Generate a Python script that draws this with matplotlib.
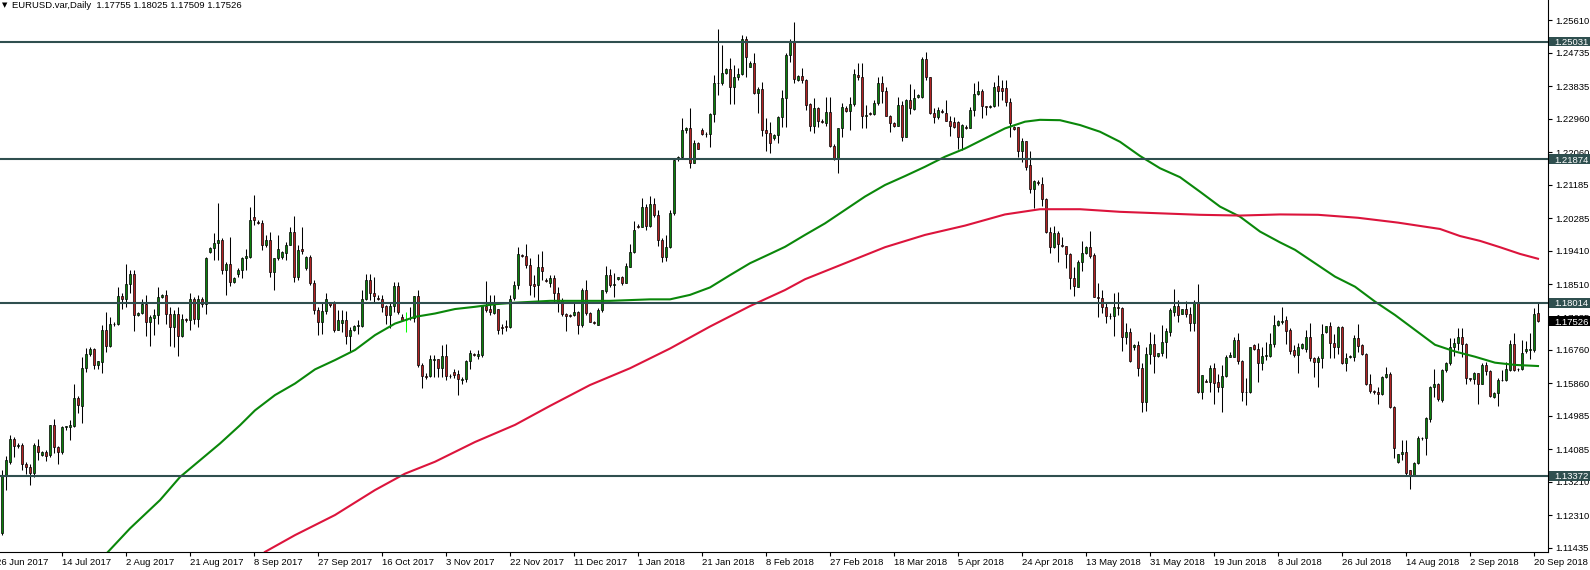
import matplotlib
matplotlib.use("Agg")
import matplotlib.pyplot as plt
import matplotlib.transforms as mtransforms
from matplotlib.patches import Rectangle
import numpy as np

plt.rcParams['font.family'] = ['Liberation Sans', 'DejaVu Sans']

# ---------------- data (EURUSD daily, bar index 0 = 26 Jun 2017) ----------------
opens = [
1.1195,1.1183,1.1340,1.1375,1.1437,1.1418,1.1421,1.1370,1.1360,1.1345,
1.1418,1.1393,1.1400,1.1392,1.1473,1.1415,1.1400,1.1467,1.1469,1.1470,
1.1547,1.1525,1.1628,1.1664,1.1679,1.1636,1.1643,1.1730,1.1686,1.1746,
1.1744,1.1820,1.1811,1.1852,1.1880,1.1769,1.1775,1.1798,1.1751,1.1761,
1.1768,1.1818,1.1824,1.1773,1.1737,1.1773,1.1713,1.1757,1.1755,1.1812,
1.1759,1.1813,1.1798,1.1939,1.1948,1.1963,1.1970,1.1889,1.1907,1.1858,
1.1880,1.1891,1.1921,1.1925,1.2031,1.2019,1.2016,1.1956,1.1970,1.1885,
1.1921,1.1925,1.1936,1.1958,1.1992,1.1871,1.1946,1.1896,1.1925,1.1854,
1.1782,1.1751,1.1779,1.1800,1.1804,1.1728,1.1748,1.1755,1.1713,1.1728,
1.1740,1.1740,1.1811,1.1863,1.1829,1.1815,1.1813,1.1793,1.1769,1.1794,
1.1846,1.1764,1.1755,1.1760,1.1760,1.1820,1.1636,1.1605,1.1605,1.1648,
1.1650,1.1628,1.1658,1.1606,1.1616,1.1610,1.1594,1.1596,1.1645,1.1664,
1.1658,1.1661,1.1793,1.1784,1.1775,1.1784,1.1737,1.1739,1.1737,1.1814,
1.1850,1.1929,1.1927,1.1902,1.1852,1.1849,1.1897,1.1863,1.1856,1.1868,
1.1829,1.1809,1.1772,1.1769,1.1768,1.1776,1.1741,1.1836,1.1774,1.1751,
1.1742,1.1782,1.1834,1.1876,1.1849,1.1865,1.1870,1.1856,1.1899,1.1938,
1.2008,1.2006,1.2060,1.2008,1.2067,1.2037,1.1970,1.1926,1.1952,1.2042,
1.2187,1.2194,1.2266,1.2270,1.2178,1.2232,1.2267,1.2254,1.2255,1.2309,
1.2391,1.2391,1.2418,1.2429,1.2380,1.2407,1.2416,1.2509,1.2436,1.2446,
1.2364,1.2377,1.2267,1.2258,1.2243,1.2252,1.2300,1.2351,1.2467,1.2503,
1.2400,1.2411,1.2400,1.2336,1.2277,1.2324,1.2290,1.2284,1.2313,1.2224,
1.2190,1.2270,1.2326,1.2317,1.2336,1.2413,1.2409,1.2304,1.2310,1.2308,
1.2337,1.2391,1.2371,1.2304,1.2285,1.2277,1.2334,1.2246,1.2346,1.2321,
1.2354,1.2353,1.2456,1.2407,1.2311,1.2300,1.2318,1.2312,1.2291,1.2288,
1.2287,1.2248,1.2275,1.2271,1.2319,1.2362,1.2371,1.2329,1.2327,1.2329,
1.2384,1.2378,1.2378,1.2342,1.2275,1.2273,1.2208,1.2236,1.2171,1.2106,
1.2126,1.2122,1.2080,1.1991,1.1951,1.1988,1.1957,1.1954,1.1933,1.1867,
1.1845,1.1912,1.1935,1.1951,1.1930,1.1818,1.1814,1.1790,1.1766,1.1765,
1.1790,1.1787,1.1709,1.1723,1.1682,1.1688,1.1626,1.1536,1.1663,1.1690,
1.1659,1.1666,1.1697,1.1724,1.1778,1.1793,1.1772,1.1784,1.1772,1.1747,
1.1802,1.1561,1.1592,1.1590,1.1628,1.1590,1.1577,1.1605,1.1657,1.1657,
1.1702,1.1646,1.1561,1.1561,1.1688,1.1677,1.1641,1.1659,1.1659,1.1691,
1.1742,1.1749,1.1756,1.1729,1.1675,1.1662,1.1680,1.1677,1.1709,1.1653,
1.1644,1.1653,1.1724,1.1739,1.1693,1.1684,1.1736,1.1641,1.1655,1.1657,
1.1706,1.1688,1.1664,1.1585,1.1565,1.1561,1.1557,1.1603,1.1610,1.1523,
1.1373,1.1395,1.1400,1.1353,1.1339,1.1371,1.1438,1.1438,1.1490,1.1576,
1.1585,1.1541,1.1620,1.1640,1.1682,1.1693,1.1709,1.1691,1.1599,1.1596,
1.1612,1.1585,1.1635,1.1619,1.1548,1.1560,1.1594,1.1594,1.1621,1.1690,
1.1624,1.1623,1.1671,1.1675,1.1675,1.17755]

highs = [
1.1212,1.1352,1.1390,1.1446,1.1441,1.1424,1.1424,1.1375,1.1368,1.1424,
1.1437,1.1405,1.1406,1.1475,1.1490,1.1418,1.1470,1.1472,1.1487,1.1583,
1.1551,1.1657,1.1681,1.1683,1.1681,1.1645,1.1742,1.1777,1.1764,1.1750,
1.1843,1.1827,1.1907,1.1889,1.1891,1.1777,1.1813,1.1822,1.1768,1.1786,
1.1845,1.1826,1.1836,1.1791,1.1782,1.1791,1.1773,1.1760,1.1827,1.1818,
1.1822,1.1818,1.1925,1.1952,1.1988,1.2070,1.1975,1.1912,1.1979,1.1872,
1.1894,1.1925,1.1947,1.2059,1.2091,1.2024,1.2024,1.1983,1.1992,1.1921,
1.1983,1.1942,1.1965,1.2006,1.2034,1.1956,1.2006,1.1927,1.1930,1.1863,
1.1791,1.1800,1.1827,1.1805,1.1807,1.1782,1.1782,1.1780,1.1737,1.1743,
1.1755,1.1836,1.1879,1.1878,1.1871,1.1822,1.1822,1.1795,1.1804,1.1858,
1.1858,1.1773,1.1777,1.1791,1.1820,1.1837,1.1640,1.1612,1.1661,1.1661,
1.1652,1.1688,1.1690,1.1610,1.1625,1.1621,1.1603,1.1648,1.1675,1.1668,
1.1675,1.1795,1.1861,1.1822,1.1822,1.1786,1.1746,1.1755,1.1822,1.1859,
1.1952,1.1934,1.1960,1.1921,1.1877,1.1933,1.1942,1.1868,1.1877,1.1877,
1.1845,1.1814,1.1774,1.1773,1.1805,1.1781,1.1841,1.1863,1.1777,1.1754,
1.1787,1.1836,1.1901,1.1892,1.1881,1.1872,1.1875,1.1908,1.1960,1.2022,
1.2012,1.2082,1.2067,1.2089,1.2082,1.2051,1.1975,1.1985,1.2051,1.2187,
1.2197,1.2297,1.2275,1.2324,1.2239,1.2234,1.2272,1.2261,1.2312,1.2413,
1.2536,1.2494,1.2432,1.2458,1.2440,1.2431,1.2521,1.2518,1.2450,1.2473,
1.2380,1.2395,1.2297,1.2288,1.2255,1.2302,1.2373,1.2472,1.2509,1.2556,
1.2413,1.2432,1.2402,1.2338,1.2351,1.2327,1.2294,1.2353,1.2353,1.2228,
1.2270,1.2337,1.2330,1.2355,1.2430,1.2445,1.2445,1.2333,1.2314,1.2346,
1.2409,1.2411,1.2380,1.2306,1.2288,1.2355,1.2344,1.2348,1.2388,1.2375,
1.2363,1.2461,1.2474,1.2407,1.2324,1.2328,1.2322,1.2345,1.2302,1.2300,
1.2291,1.2282,1.2279,1.2328,1.2391,1.2396,1.2375,1.2331,1.2333,1.2395,
1.2413,1.2400,1.2400,1.2351,1.2277,1.2275,1.2243,1.2236,1.2209,1.2131,
1.2131,1.2139,1.2082,1.2006,1.2008,1.1995,1.1978,1.1954,1.1936,1.1899,
1.1917,1.1969,1.1955,1.1995,1.1936,1.1854,1.1836,1.1800,1.1774,1.1827,
1.1832,1.1790,1.1748,1.1733,1.1691,1.1700,1.1639,1.1684,1.1723,1.1718,
1.1667,1.1742,1.1733,1.1787,1.1838,1.1809,1.1784,1.1807,1.1791,1.1809,
1.1852,1.1608,1.1596,1.1635,1.1639,1.1611,1.1635,1.1662,1.1670,1.1711,
1.1722,1.1648,1.1599,1.1684,1.1690,1.1693,1.1684,1.1697,1.1720,1.1769,
1.1756,1.1791,1.1765,1.1733,1.1688,1.1693,1.1693,1.1730,1.1747,1.1657,
1.1659,1.1745,1.1740,1.1751,1.1718,1.1740,1.1740,1.1666,1.1661,1.1715,
1.1745,1.1691,1.1666,1.1610,1.1568,1.1576,1.1605,1.1630,1.1616,1.1525,
1.1397,1.1433,1.1433,1.1353,1.1373,1.1443,1.1442,1.1496,1.1578,1.1623,
1.1587,1.1625,1.1643,1.1708,1.1706,1.1733,1.1733,1.1693,1.1601,1.1617,
1.1614,1.1641,1.1644,1.1621,1.1562,1.1599,1.1621,1.1644,1.1702,1.1722,
1.1628,1.1702,1.1700,1.1720,1.1787,1.18025]

lows = [
1.1175,1.1178,1.1300,1.1370,1.1388,1.1412,1.1354,1.1343,1.1312,1.1334,
1.1379,1.1390,1.1378,1.1387,1.1398,1.1370,1.1395,1.1460,1.1433,1.1467,
1.1505,1.1478,1.1617,1.1660,1.1625,1.1625,1.1612,1.1670,1.1684,1.1740,
1.1742,1.1784,1.1791,1.1828,1.1727,1.1765,1.1773,1.1712,1.1686,1.1715,
1.1746,1.1815,1.1746,1.1686,1.1684,1.1660,1.1710,1.1750,1.1728,1.1746,
1.1737,1.1791,1.1773,1.1935,1.1916,1.1916,1.1880,1.1822,1.1846,1.1855,
1.1872,1.1867,1.1891,1.1923,1.2010,1.2012,1.1943,1.1952,1.1871,1.1836,
1.1916,1.1920,1.1916,1.1956,1.1858,1.1863,1.1934,1.1890,1.1850,1.1773,
1.1715,1.1719,1.1773,1.1791,1.1724,1.1728,1.1724,1.1692,1.1670,1.1726,
1.1719,1.1737,1.1809,1.1809,1.1804,1.1810,1.1777,1.1746,1.1733,1.1778,
1.1773,1.1755,1.1724,1.1755,1.1751,1.1630,1.1572,1.1598,1.1603,1.1603,
1.1603,1.1603,1.1594,1.1600,1.1599,1.1554,1.1585,1.1590,1.1625,1.1658,
1.1652,1.1657,1.1777,1.1769,1.1773,1.1719,1.1719,1.1725,1.1733,1.1809,
1.1838,1.1924,1.1894,1.1823,1.1817,1.1805,1.1863,1.1858,1.1845,1.1805,
1.1778,1.1766,1.1727,1.1764,1.1765,1.1718,1.1738,1.1769,1.1749,1.1744,
1.1742,1.1778,1.1827,1.1845,1.1816,1.1863,1.1850,1.1854,1.1897,1.1935,
1.2003,1.2006,1.1997,1.2006,1.2033,1.1953,1.1912,1.1915,1.1948,1.2038,
1.2183,1.2190,1.2257,1.2163,1.2176,1.2214,1.2251,1.2248,1.2221,1.2288,
1.2360,1.2387,1.2416,1.2336,1.2335,1.2400,1.2413,1.2407,1.2434,1.2362,
1.2312,1.2250,1.2208,1.2203,1.2240,1.2232,1.2275,1.2275,1.2447,1.2393,
1.2397,1.2391,1.2319,1.2264,1.2257,1.2275,1.2285,1.2277,1.2219,1.2186,
1.2151,1.2248,1.2314,1.2266,1.2331,1.2400,1.2270,1.2270,1.2305,1.2306,
1.2334,1.2337,1.2302,1.2259,1.2275,1.2277,1.2237,1.2246,1.2308,1.2319,
1.2352,1.2351,1.2400,1.2309,1.2284,1.2295,1.2312,1.2291,1.2250,1.2270,
1.2216,1.2212,1.2268,1.2270,1.2302,1.2360,1.2297,1.2306,1.2325,1.2327,
1.2331,1.2346,1.2329,1.2248,1.2266,1.2194,1.2181,1.2158,1.2096,1.2055,
1.2118,1.2062,1.1988,1.1936,1.1948,1.1910,1.1952,1.1894,1.1838,1.1820,
1.1843,1.1888,1.1933,1.1921,1.1816,1.1763,1.1775,1.1748,1.1757,1.1713,
1.1769,1.1673,1.1691,1.1644,1.1675,1.1605,1.1509,1.1512,1.1637,1.1614,
1.1657,1.1659,1.1653,1.1713,1.1765,1.1751,1.1771,1.1764,1.1727,1.1727,
1.1560,1.1543,1.1588,1.1563,1.1530,1.1563,1.1508,1.1602,1.1655,1.1655,
1.1637,1.1539,1.1527,1.1559,1.1675,1.1590,1.1620,1.1648,1.1655,1.1684,
1.1740,1.1745,1.1690,1.1665,1.1657,1.1612,1.1678,1.1670,1.1646,1.1602,
1.1575,1.1626,1.1722,1.1653,1.1653,1.1664,1.1637,1.1619,1.1653,1.1646,
1.1670,1.1662,1.1581,1.1560,1.1557,1.1529,1.1554,1.1601,1.1518,1.1384,
1.1371,1.1380,1.1339,1.1301,1.1337,1.1369,1.1433,1.1393,1.1483,1.1550,
1.1539,1.1536,1.1616,1.1636,1.1660,1.1675,1.1657,1.1584,1.1592,1.1584,
1.1530,1.1583,1.1608,1.1550,1.1545,1.1525,1.1592,1.1592,1.1619,1.1619,
1.1619,1.1621,1.1666,1.1650,1.1670,1.17509]

closes = [
1.1182,1.1340,1.1379,1.1437,1.1418,1.1421,1.1370,1.1360,1.1345,1.1421,
1.1402,1.1400,1.1391,1.1473,1.1415,1.1402,1.1467,1.1470,1.1473,1.1547,
1.1527,1.1628,1.1664,1.1679,1.1636,1.1645,1.1730,1.1686,1.1746,1.1744,
1.1820,1.1811,1.1852,1.1880,1.1769,1.1775,1.1798,1.1751,1.1764,1.1768,
1.1818,1.1822,1.1773,1.1737,1.1773,1.1713,1.1757,1.1755,1.1812,1.1759,
1.1813,1.1798,1.1921,1.1949,1.1961,1.1970,1.1889,1.1907,1.1858,1.1868,
1.1891,1.1921,1.1927,1.2025,1.2025,1.2015,1.1956,1.1970,1.1885,1.1921,
1.1945,1.1939,1.1958,1.1992,1.1871,1.1943,1.1941,1.1925,1.1854,1.1782,
1.1751,1.1779,1.1811,1.1795,1.1728,1.1755,1.1755,1.1713,1.1730,1.1740,
1.1742,1.1811,1.1863,1.1829,1.1820,1.1813,1.1791,1.1769,1.1794,1.1846,
1.1777,1.1755,1.1755,1.1762,1.1820,1.1634,1.1605,1.1603,1.1650,1.1650,
1.1628,1.1658,1.1605,1.1604,1.1609,1.1596,1.1598,1.1645,1.1666,1.1662,
1.1664,1.1793,1.1782,1.1776,1.1795,1.1728,1.1733,1.1737,1.1813,1.1850,
1.1932,1.1927,1.1902,1.1850,1.1848,1.1897,1.1888,1.1861,1.1868,1.1829,
1.1805,1.1772,1.1765,1.1767,1.1776,1.1741,1.1836,1.1774,1.1751,1.1747,
1.1782,1.1836,1.1876,1.1850,1.1852,1.1870,1.1856,1.1901,1.1938,1.1997,
1.2006,1.2060,1.2008,1.2067,1.2037,1.1970,1.1926,1.1952,1.2042,1.2185,
1.2194,1.2266,1.2270,1.2178,1.2232,1.2216,1.2254,1.2255,1.2309,1.2391,
1.2393,1.2418,1.2429,1.2380,1.2407,1.2416,1.2509,1.2461,1.2446,1.2364,
1.2377,1.2267,1.2258,1.2232,1.2252,1.2300,1.2351,1.2467,1.2503,1.2403,
1.2411,1.2400,1.2333,1.2277,1.2324,1.2291,1.2288,1.2313,1.2224,1.2190,
1.2270,1.2328,1.2317,1.2336,1.2416,1.2409,1.2304,1.2306,1.2308,1.2337,
1.2391,1.2371,1.2304,1.2285,1.2277,1.2334,1.2246,1.2346,1.2324,1.2351,
1.2360,1.2456,1.2407,1.2311,1.2300,1.2320,1.2315,1.2291,1.2277,1.2275,
1.2246,1.2278,1.2271,1.2319,1.2362,1.2371,1.2329,1.2327,1.2331,1.2382,
1.2371,1.2371,1.2342,1.2284,1.2268,1.2208,1.2236,1.2167,1.2106,1.2129,
1.2124,1.2080,1.1991,1.1951,1.1988,1.1959,1.1955,1.1933,1.1867,1.1847,
1.1912,1.1936,1.1952,1.1928,1.1818,1.1814,1.1790,1.1767,1.1765,1.1790,
1.1789,1.1709,1.1723,1.1646,1.1688,1.1626,1.1536,1.1663,1.1690,1.1659,
1.1666,1.1697,1.1727,1.1782,1.1793,1.1769,1.1784,1.1772,1.1747,1.1805,
1.1561,1.1608,1.1590,1.1628,1.1587,1.1577,1.1605,1.1657,1.1662,1.1702,
1.1646,1.1561,1.1563,1.1684,1.1677,1.1641,1.1659,1.1662,1.1691,1.1742,
1.1753,1.1754,1.1727,1.1673,1.1662,1.1682,1.1690,1.1709,1.1653,1.1644,
1.1653,1.1718,1.1739,1.1693,1.1684,1.1736,1.1641,1.1653,1.1659,1.1706,
1.1686,1.1664,1.1585,1.1566,1.1563,1.1557,1.1602,1.1610,1.1523,1.1411,
1.1395,1.1400,1.1346,1.1339,1.1371,1.1438,1.1439,1.1492,1.1576,1.1585,
1.1543,1.1621,1.1640,1.1682,1.1693,1.1709,1.1691,1.1599,1.1596,1.1612,
1.1585,1.1635,1.1619,1.1551,1.1560,1.1594,1.1595,1.1623,1.1690,1.1621,
1.1623,1.1668,1.1677,1.1677,1.1773,1.17526]

# moving averages (bar position, price)
green_ma_x = [27.5, 33, 40.5, 45.5, 50.5, 55.5, 60.5, 64.25, 69.25, 74.25, 79.25, 84.25,
              89.25, 94.25, 99.25, 104.25, 109.25, 114.25, 119.25, 124.25, 129.25, 138,
              153, 163, 168, 173, 178, 183, 188, 193, 196.75, 201.75, 206.75, 211.75,
              216.75, 221.75, 226.75, 231.75, 236.75, 241.75, 246.75, 251.75, 256.75,
              260.5, 265.5, 270.5, 275.5, 280.5, 285.5, 290.5, 295.5, 300.5, 305.5,
              310.5, 315.5, 320.5, 324.25, 329.25, 334.25, 339.25, 344.25, 349.25,
              354.25, 359.25, 364.25, 369.25, 374.25, 379.25, 385]
green_ma_y = [1.1133, 1.1196, 1.1272, 1.1334, 1.1379, 1.1424, 1.1473, 1.1513, 1.1554, 1.1585,
              1.1623, 1.1648, 1.1675, 1.1715, 1.1746, 1.1764, 1.1773, 1.1785, 1.1791, 1.1798,
              1.1802, 1.1807, 1.1807, 1.1811, 1.1811, 1.1823, 1.1843, 1.1876, 1.1908, 1.1933,
              1.1952, 1.1984, 1.2015, 1.2051, 1.2087, 1.2118, 1.2142, 1.2167, 1.2194, 1.2216,
              1.2243, 1.2270, 1.2288, 1.2293, 1.2292, 1.2279, 1.2261, 1.2234, 1.2196, 1.2163,
              1.2139, 1.2100, 1.2060, 1.2033, 1.1993, 1.1964, 1.1944, 1.1908, 1.1872, 1.1845,
              1.1805, 1.1769, 1.1729, 1.1689, 1.1671, 1.1657, 1.1641, 1.1635, 1.1632]
red_ma_x = [66.75, 74.25, 84.25, 94.25, 101.75, 109.25, 119.25, 129.25, 138, 148, 158, 168,
            178, 188, 196.75, 201.75, 211.75, 221.75, 231.75, 241.75, 251.75, 260.5, 270.5,
            280.5, 290.5, 300.5, 310.5, 320.5, 330, 340, 350, 360.5, 365.5, 370.5, 375.5,
            380.5, 385]
red_ma_y = [1.1133, 1.1178, 1.1232, 1.1299, 1.1343, 1.1375, 1.1428, 1.1474, 1.1525, 1.1581,
            1.1626, 1.1679, 1.1738, 1.1793, 1.1836, 1.1865, 1.1908, 1.1951, 1.1984, 1.2009,
            1.2039, 1.2053, 1.2053, 1.2046, 1.2042, 1.2038, 1.2036, 1.2039, 1.2038, 1.2030,
            1.2017, 1.2000, 1.1981, 1.1968, 1.1951, 1.1933, 1.1920]

hline_levels = [1.25031, 1.21874, 1.18014, 1.13372]
price_ticks = [1.25610, 1.24735, 1.23835, 1.22960, 1.22060, 1.21185, 1.20285, 1.19410,
               1.18510, 1.17635, 1.16760, 1.15860, 1.14985, 1.14085, 1.13210, 1.12310, 1.11435]
date_labels = ["26 Jun 2017", "14 Jul 2017", "2 Aug 2017", "21 Aug 2017", "8 Sep 2017",
               "27 Sep 2017", "16 Oct 2017", "3 Nov 2017", "22 Nov 2017", "11 Dec 2017",
               "1 Jan 2018", "21 Jan 2018", "8 Feb 2018", "27 Feb 2018", "18 Mar 2018",
               "5 Apr 2018", "24 Apr 2018", "13 May 2018", "31 May 2018", "19 Jun 2018",
               "8 Jul 2018", "26 Jul 2018", "14 Aug 2018", "2 Sep 2018", "20 Sep 2018"]
date_label_bars = [16 * k for k in range(len(date_labels))]
title_text = "EURUSD.var,Daily  1.17755 1.18025 1.17509 1.17526"

# ---------------- figure ----------------
W, H = 1590, 570
fig = plt.figure(figsize=(W / 100, H / 100), dpi=100)
ax = fig.add_axes([0, 18 / H, 1548 / W, 552 / H])
ax.set_xlim(0.5, 387.5)
ax.set_ylim(1.11327, 1.26147)

o = np.array(opens); hi = np.array(highs); lo = np.array(lows); c = np.array(closes)
x = np.arange(len(c))
doji = c == o
up = c > o
LIME = '#00FF00'
BULL = '#0A800A'
BEAR = '#B22222'

wick_cols = np.where(doji, LIME, 'black')
ax.vlines(x, lo, hi, colors=wick_cols, linewidth=0.75, zorder=3)
body_cols = np.where(doji, LIME, np.where(up, BULL, BEAR))
edge_cols = np.where(doji, LIME, 'black')
ax.bar(x, np.abs(c - o), bottom=np.minimum(o, c), width=0.62, color=body_cols,
       edgecolor=edge_cols, linewidth=0.5, zorder=4)

ax.plot(green_ma_x, green_ma_y, color='#0A870A', lw=1.5, zorder=4.5, solid_joinstyle='round')
ax.plot(red_ma_x, red_ma_y, color='#DC143C', lw=1.5, zorder=4.5, solid_joinstyle='round')

for lv in hline_levels:
    ax.axhline(lv, color='#2F4F4F', lw=1.5, zorder=5)

# axes styling
for s in ['top', 'left']:
    ax.spines[s].set_visible(False)
for s in ['right', 'bottom']:
    ax.spines[s].set_color('black')
    ax.spines[s].set_linewidth(0.8)
ax.set_facecolor('white')

ax.yaxis.tick_right()
ax.set_yticks(price_ticks)
ax.set_yticklabels(["%.5f" % v for v in price_ticks])
ax.tick_params(axis='y', direction='out', length=3, width=0.8, pad=2.2, labelsize=6.8)

ax.set_xticks(date_label_bars[1:])
ax.set_xticklabels(date_labels[1:], ha='left')
ax.tick_params(axis='x', direction='out', length=3, width=0.8, pad=1.5, labelsize=6.8)

# first date label (its tick falls just left of the visible area)
trans0 = mtransforms.offset_copy(
    mtransforms.blended_transform_factory(ax.transData, ax.transAxes),
    fig=fig, y=-4.5, units='points')
ax.text(date_label_bars[0] - 0.5, 0, date_labels[0], transform=trans0, ha='left', va='top',
        fontsize=6.8, clip_on=False)

# price label boxes on the right scale
bt = mtransforms.blended_transform_factory(fig.transFigure, ax.transData)
px_price = (1.26147 - 1.11327) / 552.0
half = 4.8 * px_price
for lv in hline_levels:
    fig.add_artist(Rectangle((1549 / W, lv - half), 41 / W, 2 * half, transform=bt,
                             facecolor='#2F4F4F', edgecolor='none', zorder=5))
    fig.text(1554 / W, lv, "%.5f" % lv, transform=bt, color='white', fontsize=6.8,
             ha='left', va='center_baseline', zorder=6)
last = closes[-1]
fig.add_artist(Rectangle((1549 / W, last - half), 41 / W, 2 * half, transform=bt,
                         facecolor='black', edgecolor='none', zorder=5))
fig.text(1554 / W, last, "%.5f" % last, transform=bt, color='white', fontsize=6.8,
         ha='left', va='center_baseline', zorder=6)

# header text
fig.text(1.5 / W, 1 - 5.5 / H, "\u25BC", fontsize=5, ha='left', va='center',
         family=['DejaVu Sans'])
fig.text(12 / W, 1 - 5.5 / H, title_text, fontsize=6.8, ha='left', va='center')

fig.savefig("out.png", dpi=100)
